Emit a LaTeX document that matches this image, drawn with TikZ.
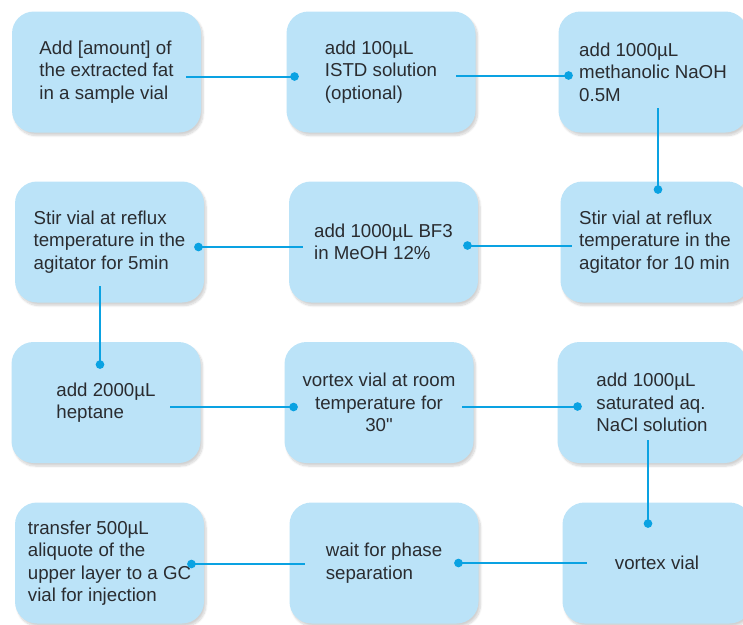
\documentclass[tikz,border=0pt]{standalone}
\usepackage{fontspec}
\setmainfont{Liberation Sans}[Ligatures=TeXOff]
\usepackage{tikz}
\usetikzlibrary{calc, arrows.meta, shadows.blur}
\definecolor{xbox}{HTML}{BBE3F8}
\definecolor{xline}{HTML}{0AA2E2}
\definecolor{xtext}{HTML}{2A2C30}
\tikzset{
	step box/.style = {rounded corners=22pt, fill=xbox, minimum width=189pt, minimum height=121pt, align=left, text=xtext, font=\fontsize{18.7}{22.5}\selectfont, blur shadow={shadow xshift=2pt, shadow yshift=-3pt, shadow opacity=18, shadow blur steps=8}},
	link/.style = {draw=xline, line width=2pt, -{Circle[length=8.5pt]}},
}

\begin{document}
\begin{tikzpicture}[x=1pt, y=-1pt]
			\useasboundingbox (0,0) rectangle (743,624);
			\node[step box] (fat) at (106.5,72) {Add [amount] of\\the extracted fat\\in a sample vial};
			\node[step box] (istd) at (381,72) {add 100µL\\ISTD solution\\(optional)};
			\node[step box] (naoh) at (653,72) {add 1000µL\\methanolic NaOH\\0.5M};
			\node[step box] (stir5) at (109.5,242) {Stir vial at reflux\\temperature in the\\agitator for 5min};
			\node[step box] (bf3) at (383.5,242) {add 1000µL BF3\\in MeOH 12\%};
			\node[step box] (stir10) at (655,242) {Stir vial at reflux\\temperature in the\\agitator for 10 min};
			\node[step box] (heptane) at (106,402.5) {add 2000µL\\heptane};
			\node[step box, align=center] (vortexroom) at (379,402.5) {vortex vial at room\\temperature for\\30"};
			\node[step box] (nacl) at (652,402.5) {add 1000µL\\saturated aq.\\NaCl solution};
			\node[step box] (transfer) at (109.5,563) {transfer 500µL\\aliquote of the\\upper layer to a GC\\vial for injection};
			\node[step box] (wait) at (384,563) {wait for phase\\separation};
			\node[step box] (vortex) at (657,563) {vortex vial};
			\draw[link] ($(fat.east)+(-15,4.5)$) -- ($(istd.west)+(12.5,4.5)$);
			\draw[link] ($(istd.east)+(-19.5,3.5)$) -- ($(naoh.west)+(14.5,3.5)$);
			\draw[link] ($(naoh.south)+(5,-24.5)$) -- ($(stir10.north)+(3,12.5)$);
			\draw[link] ($(stir10.west)+(11.5,3.5)$) -- ($(bf3.east)+(-15,3.5)$);
			\draw[link] ($(bf3.west)+(14,5)$) -- ($(stir5.east)+(-10,5)$);
			\draw[link] ($(stir5.south)+(-9.5,-16.5)$) -- ($(heptane.north)+(-6,27)$);
			\draw[link] ($(heptane.east)+(-30.5,4.5)$) -- ($(vortexroom.west)+(13.5,4.5)$);
			\draw[link] ($(vortexroom.east)+(-11.5,4)$) -- ($(nacl.west)+(24.5,4)$);
			\draw[link] ($(nacl.south)+(-4,-23)$) -- ($(vortex.north)+(-9,25.5)$);
			\draw[link] ($(vortex.west)+(24.5,0)$) -- ($(wait.east)+(-24.5,0)$);
			\draw[link] ($(wait.west)+(15.5,1)$) -- ($(transfer.east)+(-17,1)$);
		\end{tikzpicture}
\end{document}
